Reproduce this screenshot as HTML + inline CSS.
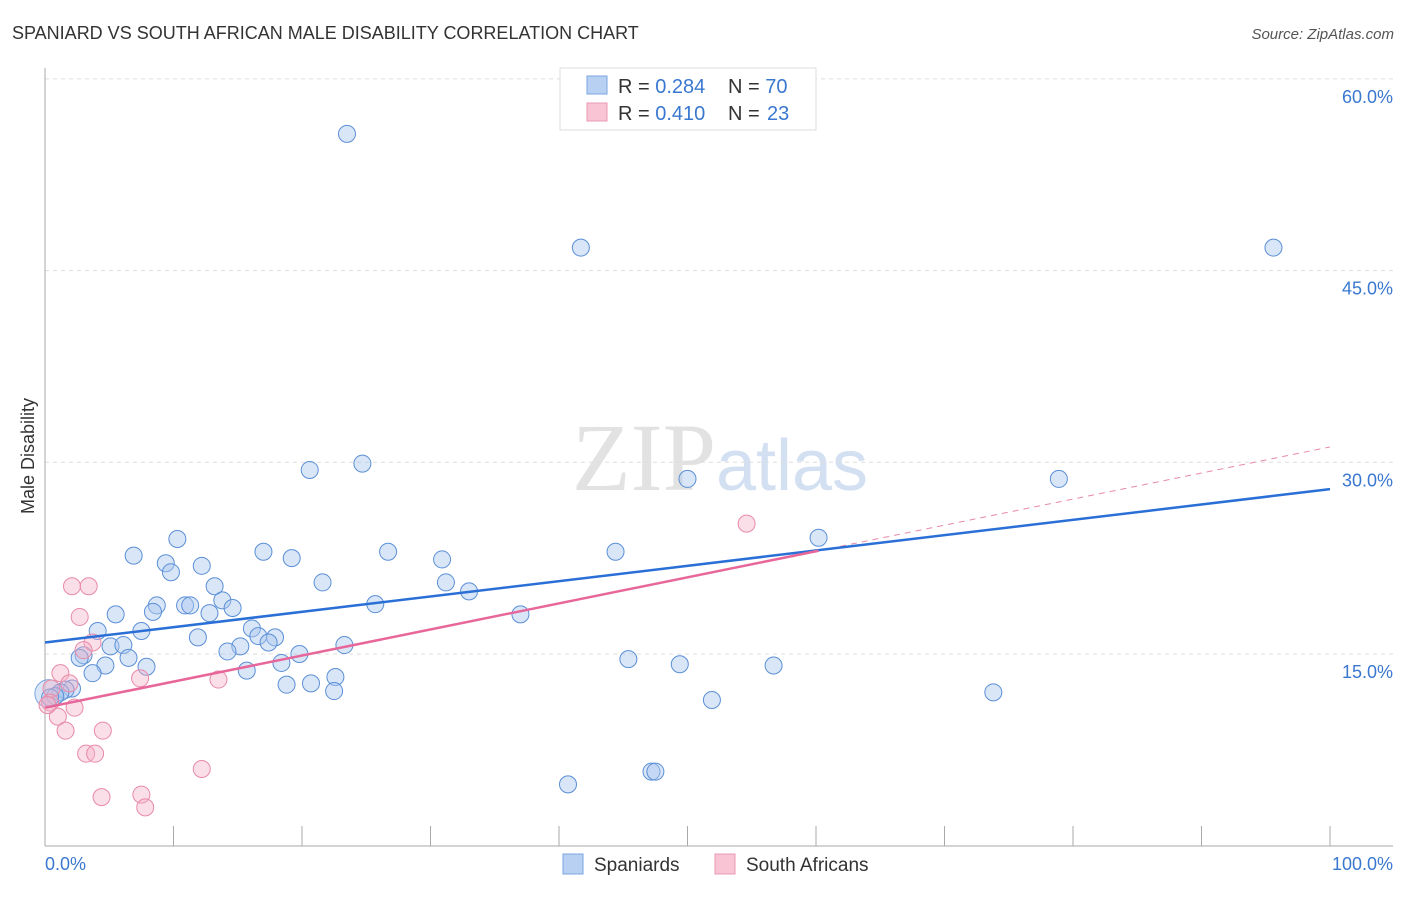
<!DOCTYPE html>
<html><head><meta charset="utf-8"><style>
body{margin:0;background:#fff;font-family:"Liberation Sans",sans-serif}
</style></head><body>
<svg width="1406" height="892" xmlns="http://www.w3.org/2000/svg" font-family="Liberation Sans, sans-serif">
<text x="12" y="39" font-size="18" fill="#333">SPANIARD VS SOUTH AFRICAN MALE DISABILITY CORRELATION CHART</text>
<text x="1394" y="39" font-size="15" fill="#555" text-anchor="end" font-style="italic">Source: ZipAtlas.com</text>
<text x="720" y="490" font-size="96" text-anchor="middle" fill="#e2e2e2" font-family="Liberation Serif, serif">ZIP<tspan fill="#d3e0f2" font-family="Liberation Sans, sans-serif" font-size="72">atlas</tspan></text>
<g id="grid"></g>
<g id="axes"></g>
<text transform="translate(34,456) rotate(-90)" font-size="18" fill="#333" text-anchor="middle">Male Disability</text>
<g id="marks"></g>
<g>
<rect x="560" y="68" width="256" height="62" fill="#fff" stroke="#ddd"/>
<rect x="587" y="76" width="20" height="18" fill="#b8d0f2" stroke="#7aa6e0"/>
<rect x="587" y="103" width="20" height="18" fill="#f9c4d4" stroke="#e99ab4"/>
<text x="618" y="93" font-size="20" fill="#333">R = <tspan fill="#3a78d0">0.284</tspan></text>
<text x="728" y="93" font-size="20" fill="#333">N = <tspan fill="#3a78d0">70</tspan></text>
<text x="618" y="120" font-size="20" fill="#333">R = <tspan fill="#3a78d0">0.410</tspan></text>
<text x="728" y="120" font-size="20" fill="#333">N = <tspan fill="#3a78d0" x="767">23</tspan></text>
</g>
<g>
<rect x="563" y="854" width="20" height="20" fill="#b8d0f2" stroke="#7aa6e0"/>
<text x="594" y="871" font-size="19" fill="#333">Spaniards</text>
<rect x="715" y="854" width="20" height="20" fill="#f9c4d4" stroke="#e99ab4"/>
<text x="746" y="871" font-size="19" fill="#333">South Africans</text>
</g>
</svg>
<script>
const yTicks=[15,30,45,60];
const yTickLabels=["15.0%","30.0%","45.0%","60.0%"];
const xEndLabels=["0.0%","100.0%"];
const blueX=[23.5,41.7,95.6,20.6,24.7,50.0,78.9,60.2,10.3,6.9,17.0,19.2,26.7,30.9,44.4,9.4,9.8,12.2,13.2,21.6,31.2,33.0,8.7,10.9,11.3,13.8,14.6,12.8,8.4,5.5,25.7,37.0,7.5,4.1,11.9,16.1,16.6,17.9,17.4,15.2,14.2,5.1,6.1,23.3,3.0,2.7,6.5,19.8,4.7,7.9,3.7,15.7,18.4,45.4,49.4,56.7,22.6,18.8,20.7,22.5,73.8,51.9,2.1,1.6,1.2,0.8,0.4,40.7,47.2,47.5];
const blueY=[55.7,46.8,46.8,29.4,29.9,28.7,28.7,24.1,24.0,22.7,23.0,22.5,23.0,22.4,23.0,22.1,21.4,21.9,20.3,20.6,20.6,19.9,18.8,18.8,18.8,19.2,18.6,18.2,18.3,18.1,18.9,18.1,16.8,16.8,16.3,17.0,16.4,16.3,15.9,15.6,15.2,15.6,15.7,15.7,14.9,14.7,14.7,15.0,14.1,14.0,13.5,13.7,14.3,14.6,14.2,14.1,13.2,12.6,12.7,12.1,12.0,11.4,12.3,12.2,12.0,11.7,11.6,4.8,5.8,5.8];
const pinkX=[2.1,3.4,2.7,3.7,3.0,1.2,1.9,7.4,13.5,0.5,0.4,2.3,1.0,1.6,4.5,3.2,3.9,12.2,4.4,7.5,7.8,54.6,0.2];
const pinkY=[20.3,20.3,17.9,15.9,15.3,13.5,12.7,13.1,13.0,12.3,11.2,10.8,10.1,9.0,9.0,7.2,7.2,6.0,3.8,4.0,3.0,25.2,11.0];
const blueTrend=[15.9,27.9];
const pinkTrend=[10.8,31.2];
const pinkSolidEnd=60.2;
const NS="http://www.w3.org/2000/svg";
const X=v=>45+v*12.85, Y=v=>845.7-v*12.78;
function mk(t,a,p){const e=document.createElementNS(NS,t);for(const k in a)e.setAttribute(k,a[k]);p.appendChild(e);return e;}
const grid=document.getElementById('grid'),axes=document.getElementById('axes'),marks=document.getElementById('marks');
yTicks.forEach((t,i)=>{
 const l=mk('line',{x1:45,x2:1393,y1:Y(t),y2:Y(t),stroke:'#ddd','stroke-dasharray':'4,4'},grid);
 
 
 const tx=mk('text',{x:1393,y:Y(t)+24,'font-size':18,fill:'#3a78d0','text-anchor':'end'},grid);
 tx.textContent=yTickLabels[i];
 
 
});
const ya=mk('line',{x1:45,x2:45,y1:68,y2:846,stroke:'#aaa'},axes);


const xa=mk('line',{x1:45,x2:1393,y1:846,y2:846,stroke:'#aaa'},axes);


for(let i=0;i<=10;i++){const t=mk('line',{x1:X(i*10),x2:X(i*10),y1:826,y2:846,stroke:'#aaa'},axes);
 
 }
[[0,'start'],[100,'end']].forEach((p,i)=>{const t=mk('text',{x:i?1393:45,y:870,'font-size':18,fill:'#3a78d0','text-anchor':p[1]},axes);t.textContent=xEndLabels[i];
 
 });
const big=mk('circle',{cx:X(0.3),cy:Y(11.9),r:14,fill:'rgba(170,200,240,0.45)',stroke:'#7aa6e0'},marks);


blueX.forEach((v,i)=>{const c=mk('circle',{cx:X(v),cy:Y(blueY[i]),r:8.5,fill:'rgba(170,200,240,0.45)',stroke:'#5b8fd6','stroke-width':1},marks);
 
 });
pinkX.forEach((v,i)=>{const c=mk('circle',{cx:X(v),cy:Y(pinkY[i]),r:8.5,fill:'rgba(245,175,198,0.4)',stroke:'#e88aa8','stroke-width':1},marks);
 
 });
const pv=x=>pinkTrend[0]+(pinkTrend[1]-pinkTrend[0])*x/100;
const pd=mk('line',{x1:X(pinkSolidEnd),y1:Y(pv(pinkSolidEnd)),x2:X(100),y2:Y(pinkTrend[1]),stroke:'#e88aa8','stroke-dasharray':'6,5','stroke-width':1},marks);


const bl=mk('line',{x1:X(0),y1:Y(blueTrend[0]),x2:X(100),y2:Y(blueTrend[1]),stroke:'#2a6fd6','stroke-width':2.5},marks);


const pl=mk('line',{x1:X(0),y1:Y(pinkTrend[0]),x2:X(pinkSolidEnd),y2:Y(pv(pinkSolidEnd)),stroke:'#e8679a','stroke-width':2.5},marks);


</script>
</body></html>
